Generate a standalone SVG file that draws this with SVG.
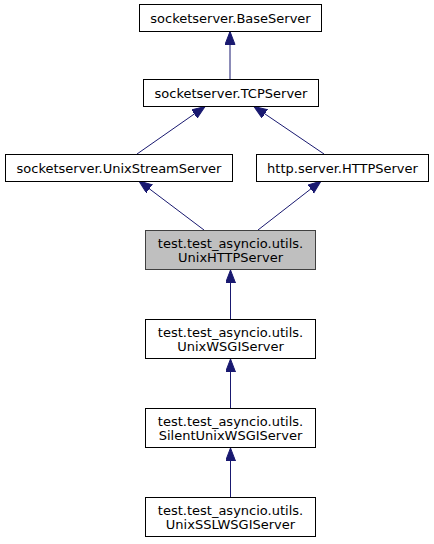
<svg xmlns="http://www.w3.org/2000/svg" width="434" height="544" viewBox="0 0 434 544">
<style>
.box{fill:#ffffff;stroke:#000000;stroke-width:1}
.cur{fill:#bfbfbf;stroke:#404040;stroke-width:1}
text{font-family:"DejaVu Sans",sans-serif;font-size:13px;fill:#000000;text-anchor:middle}
.edge{stroke:#191970;stroke-width:1;fill:none;marker-end:url(#arr)}
</style>
<defs>
<marker id="arr" markerUnits="userSpaceOnUse" markerWidth="14" markerHeight="11" refX="13" refY="5" orient="auto">
<path d="M0,0 L13,5 L0,10 z" fill="#191970" stroke="#191970" stroke-width="1"/>
</marker>
</defs>
<rect width="434" height="544" fill="#ffffff"/>
<g id="connectors">
<path class="edge" d="M230,79.5 L230,31.5"/>
<path class="edge" d="M137,154 L205,106.5"/>
<path class="edge" d="M324,154 L254,106.5"/>
<path class="edge" d="M204,230 L139,181"/>
<path class="edge" d="M258,230 L321,181"/>
<path class="edge" d="M230.5,319 L230.5,270"/>
<path class="edge" d="M230.5,408 L230.5,359"/>
<path class="edge" d="M230.5,497 L230.5,448"/>
</g>
<g id="BaseServer">
<rect class="box" x="139.5" y="4.5" width="182" height="27"/>
<text x="230.5" y="22.5">socketserver.BaseServer</text>
</g>
<g id="TCPServer">
<rect class="box" x="143.5" y="79.5" width="175" height="27"/>
<text x="231" y="97.5">socketserver.TCPServer</text>
</g>
<g id="UnixStreamServer">
<rect class="box" x="5.5" y="154.5" width="227" height="27"/>
<text x="119" y="172.5">socketserver.UnixStreamServer</text>
</g>
<g id="HTTPServer">
<rect class="box" x="256.5" y="154.5" width="172" height="27"/>
<text x="342.5" y="172.5">http.server.HTTPServer</text>
</g>
<g id="UnixHTTPServer">
<rect class="cur" x="145.5" y="230.5" width="170" height="39"/>
<text x="230.5" y="248">test.test_asyncio.utils.</text>
<text x="230.5" y="262">UnixHTTPServer</text>
</g>
<g id="UnixWSGIServer">
<rect class="box" x="145.5" y="319.5" width="170" height="39"/>
<text x="230.5" y="337">test.test_asyncio.utils.</text>
<text x="230.5" y="351">UnixWSGIServer</text>
</g>
<g id="SilentUnixWSGIServer">
<rect class="box" x="145.5" y="408.5" width="170" height="39"/>
<text x="230.5" y="426">test.test_asyncio.utils.</text>
<text x="230.5" y="440">SilentUnixWSGIServer</text>
</g>
<g id="UnixSSLWSGIServer">
<rect class="box" x="145.5" y="497.5" width="170" height="39"/>
<text x="230.5" y="515">test.test_asyncio.utils.</text>
<text x="230.5" y="529">UnixSSLWSGIServer</text>
</g>
</svg>
